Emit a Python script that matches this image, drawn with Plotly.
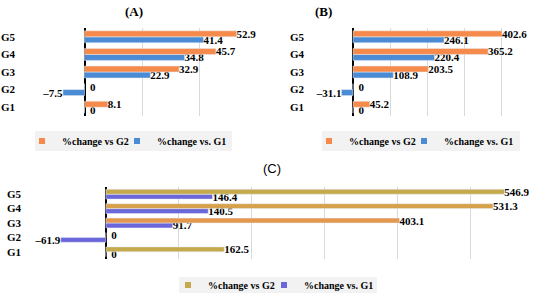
import plotly.graph_objects as go

groups = ["G1", "G2", "G3", "G4", "G5"]

# panel A
a_vs_g2 = [8.1, 0, 32.9, 45.7, 52.9]
a_vs_g1 = [0, -7.5, 22.9, 34.8, 41.4]
# panel B
b_vs_g2 = [45.2, 0, 203.5, 365.2, 402.6]
b_vs_g1 = [0, -31.1, 108.9, 220.4, 246.1]
# panel C
c_vs_g2 = [162.5, 0, 403.1, 531.3, 546.9]
c_vs_g1 = [0, -61.9, 91.7, 140.5, 146.4]

name_g2 = "%change vs G2"
name_g1 = "%change vs. G1"

ORANGE = "#F58A4B"
BLUE = "#4A8BD3"
OLIVE = ["#C4AA4C", "#C4AA4C", "#E4984F", "#D7A14C", "#C4AA4C"]
VIOLET = "#6B66D9"

SERIF = "Liberation Serif"
W, H = 550, 296


def lbl(vals):
    # zero labels sit a little off the axis line, as in the source
    return ["\u2002" + "0" if v == 0 else f"{v:g}".replace("-", "\u2013") for v in vals]


fig = go.Figure()
leg_n = [0]


def next_legend():
    leg_n[0] += 1
    return "legend" if leg_n[0] == 1 else f"legend{leg_n[0]}"


def add_panel(n, vs_g2, vs_g1, col_g2, col_g1, leg_col_g2, leg_col_g1):
    ax = "" if n == 1 else str(n)
    # blue first so it sits below the orange bar in each group
    for vals, col in [(vs_g1, col_g1), (vs_g2, col_g2)]:
        fig.add_trace(go.Bar(
            y=groups, x=vals, orientation="h", marker_color=col,
            text=lbl(vals), textposition="outside", cliponaxis=False,
            constraintext="none",
            textfont=dict(family=SERIF, size=11, color="black", weight="bold"),
            xaxis="x" + ax, yaxis="y" + ax, showlegend=False,
        ))
    # legend-only markers (small squares), one legend per entry so spacing can be set
    legs = []
    for name, c in [(name_g2, leg_col_g2), (name_g1, leg_col_g1)]:
        leg = next_legend()
        legs.append(leg)
        fig.add_trace(go.Scatter(
            x=[None], y=[None], mode="markers", name=name,
            marker=dict(symbol="square", size=6, color=c),
            xaxis="x" + ax, yaxis="y" + ax, legend=leg,
        ))
    return legs


legs_a = add_panel(1, a_vs_g2, a_vs_g1, ORANGE, BLUE, ORANGE, BLUE)
legs_b = add_panel(2, b_vs_g2, b_vs_g1, ORANGE, BLUE, ORANGE, BLUE)
legs_c = add_panel(3, c_vs_g2, c_vs_g1, OLIVE, VIOLET, "#C4AA4C", VIOLET)

xa = dict(showgrid=True, gridcolor="#D9D9D9", gridwidth=1,
          zeroline=True, zerolinecolor="black", zerolinewidth=2,
          showticklabels=False, showline=False, fixedrange=True, automargin=False)
ya = dict(showgrid=False, zeroline=False, showline=False, automargin=False,
          tickfont=dict(family=SERIF, size=11, color="black", weight="bold"),
          ticklabelstandoff=11)

leg_base = dict(orientation="h", xanchor="left", yanchor="middle",
                bgcolor="rgba(0,0,0,0)", borderwidth=0,
                font=dict(family=SERIF, size=10, color="black", weight="bold"),
                itemwidth=30)

# legend entries: (legend id, left px, centre y px)
leg_pos = [(legs_a[0], 22, 141), (legs_a[1], 117, 141),
           (legs_b[0], 309, 141), (legs_b[1], 404, 141),
           (legs_c[0], 168, 285), (legs_c[1], 264, 285)]
legend_layout = {lid: dict(leg_base, x=px / W, y=1 - py / H) for lid, px, py in leg_pos}

# grey legend boxes (px): x0, x1, y0, y1
leg_boxes = [(35, 232, 131, 151), (322, 520, 131, 151), (179, 377, 277, 293)]

fig.update_layout(
    width=W, height=H,
    margin=dict(l=0, r=0, t=0, b=0, autoexpand=False),
    paper_bgcolor="white", plot_bgcolor="white",
    barmode="group", bargap=0.32, bargroupgap=0,
    xaxis=dict(xa, domain=[27 / W, 257 / W], range=[-20, 60], dtick=20, anchor="y"),
    yaxis=dict(ya, domain=[1 - 116 / H, 1 - 28 / H], anchor="x"),
    xaxis2=dict(xa, domain=[316 / W, 538 / W], range=[-100, 500], dtick=100, anchor="y2"),
    yaxis2=dict(ya, domain=[1 - 116 / H, 1 - 28 / H], anchor="x2"),
    xaxis3=dict(xa, domain=[33 / W, 543 / W], range=[-100, 600], dtick=100, anchor="y3"),
    yaxis3=dict(ya, domain=[1 - 259 / H, 1 - 187 / H], anchor="x3"),
    showlegend=True,
    **legend_layout,
)

for x0, x1, y0, y1 in leg_boxes:
    fig.add_shape(type="rect", xref="paper", yref="paper", layer="below",
                  x0=x0 / W, x1=x1 / W, y0=1 - y1 / H, y1=1 - y0 / H,
                  fillcolor="#F2F2F2", line_width=0)

titles = [("(A)", 134, 11, SERIF, "bold"),
          ("(B)", 323, 11, SERIF, "bold"),
          ("(C)", 272, 168, "Liberation Sans", "normal")]
for txt, px_x, px_y, fam, wt in titles:
    fig.add_annotation(text=txt, x=px_x / W, y=1 - px_y / H, xref="paper", yref="paper",
                       xanchor="center", yanchor="middle", showarrow=False,
                       font=dict(family=fam, size=13, color="black", weight=wt))

# the page body has a default 8px margin; drop it so the figure sits at the corner
fig.write_html("out.html", config={"displayModeBar": False},
               post_script="document.body.style.margin='0';")
